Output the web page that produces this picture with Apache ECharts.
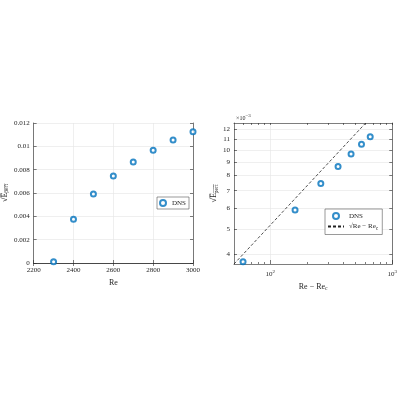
<!DOCTYPE html>
<html><head><meta charset="utf-8">
<script src="https://cdn.jsdelivr.net/npm/echarts@6/dist/echarts.min.js"></script>
<style>html,body{margin:0;padding:0;background:#fff}#c{width:400px;height:400px}</style>
</head><body><div id="c"></div>
<script>
// Left panel data
const reValues = [2300, 2400, 2500, 2600, 2700, 2800, 2900, 3000];
const sqrtE = [0.0001, 0.00374, 0.00591, 0.00746, 0.00866, 0.00966, 0.01054, 0.01126];
const leftXTicks = [2200, 2400, 2600, 2800, 3000];
const leftYTicks = [0, 0.002, 0.004, 0.006, 0.008, 0.01, 0.012];
// Right panel data
const reMinusRc = [60, 160, 260, 360, 460, 560, 660];
const sqrtELog = [0.00374, 0.00591, 0.00746, 0.00866, 0.00966, 0.01054, 0.01126];
const fitX = [50.6, 606];
const fitY = [0.00367, 0.0127];
const rightXMajor = [100, 1000];
const rightXMinor = [60, 70, 80, 90, 200, 300, 400, 500, 600, 700, 800, 900];
const rightYTicks = [0.004, 0.005, 0.006, 0.007, 0.008, 0.009, 0.010, 0.011, 0.012];

const FONT = 'Liberation Serif';
const TXT = '#262626';
const AX = '#262626';
const GRID = '#e4e4e4';
const BLUE = '#0072BD';
const rich = {
  sup: {fontSize: 5, fontFamily: FONT, color: TXT, padding: [0, 0, 5, 0]},
  sub: {fontSize: 5.5, fontFamily: FONT, color: TXT, padding: [4, 0, 0, 0]}
};

function baseAxis(extra) {
  return Object.assign({
    axisLine: {show: true, lineStyle: {color: AX, width: 0.6}},
    axisTick: {show: true, inside: true, length: 3, lineStyle: {color: AX, width: 0.6}},
    axisLabel: {show: true, fontFamily: FONT, fontSize: 7, color: TXT, margin: 4},
    splitLine: {show: true, lineStyle: {color: GRID, width: 0.6}},
    nameTextStyle: {fontFamily: FONT, fontSize: 8, color: TXT, rich: rich}
  }, extra);
}
function boxAxis(extra) {
  return Object.assign(baseAxis(extra), {
    axisLabel: {show: false}, splitLine: {show: false}
  });
}

const chart = echarts.init(document.getElementById('c'), null, {renderer: 'canvas'});
const yName = '√E̅{sub|p̅e̅r̅t̅}';
chart.setOption({
  animation: false,
  backgroundColor: '#fff',
  grid: [
    {left: 32, top: 123, width: 161, height: 140},
    {left: 234, top: 123, width: 161, height: 141}
  ],
  xAxis: [
    baseAxis({gridIndex: 0, type: 'value', min: 2200, max: 3000, interval: 200,
      name: 'Re', nameLocation: 'middle', nameGap: 16,
      axisLabel: {fontFamily: FONT, fontSize: 7, color: TXT, margin: 4, customValues: leftXTicks,
        formatter: v => String(v)},
      axisTick: {inside: true, length: 3, lineStyle: {color: AX, width: 0.6}, customValues: leftXTicks}}),
    boxAxis({gridIndex: 0, type: 'value', min: 2200, max: 3000, interval: 200, position: 'top'}),
    baseAxis({gridIndex: 1, type: 'log', min: 50.6, max: 1000,
      name: 'Re − Re{sub|c}', nameLocation: 'middle', nameGap: 18,
      axisLabel: {fontFamily: FONT, fontSize: 7, color: TXT, margin: 5, customValues: rightXMajor,
        formatter: v => '10{sup|' + Math.round(Math.log10(v)) + '}', rich: rich},
      axisTick: {inside: true, length: 4, lineStyle: {color: AX, width: 0.6}, customValues: rightXMajor}}),
    boxAxis({gridIndex: 1, type: 'log', min: 50.6, max: 1000, position: 'bottom',
      axisLine: {show: false},
      axisTick: {inside: true, length: 2, lineStyle: {color: AX, width: 0.6}, customValues: rightXMinor}}),
    boxAxis({gridIndex: 1, type: 'log', min: 50.6, max: 1000, position: 'top',
      axisTick: {inside: true, length: 2, lineStyle: {color: AX, width: 0.6}, customValues: rightXMinor.concat(rightXMajor)}})
  ],
  yAxis: [
    baseAxis({gridIndex: 0, type: 'value', min: 0, max: 0.012, interval: 0.002,
      name: yName, nameLocation: 'middle', nameGap: 22, nameRotate: 90}),
    boxAxis({gridIndex: 0, type: 'value', min: 0, max: 0.012, interval: 0.002, position: 'right'}),
    baseAxis({gridIndex: 1, type: 'log', min: 0.00367, max: 0.0127,
      name: yName, nameLocation: 'middle', nameGap: 12, nameRotate: 90,
      axisLabel: {fontFamily: FONT, fontSize: 7, color: TXT, margin: 4, customValues: rightYTicks,
        formatter: v => String(Math.round(v * 1000))},
      axisTick: {inside: true, length: 3, lineStyle: {color: AX, width: 0.6}, customValues: rightYTicks}}),
    boxAxis({gridIndex: 1, type: 'log', min: 0.00367, max: 0.0127, position: 'right',
      axisTick: {inside: true, length: 3, lineStyle: {color: AX, width: 0.6}, customValues: rightYTicks}})
  ],
  legend: [
    {data: ['DNS'], left: 157, top: 197, orient: 'vertical', itemWidth: 8, itemHeight: 6, itemGap: 2,
      padding: [2, 3, 2, 2], borderColor: '#555', borderWidth: 0.6, backgroundColor: '#fff',
      textStyle: {fontFamily: FONT, fontSize: 7, color: TXT}},
    {data: ['DNS', {name: 'fit', itemStyle: {opacity: 0}}], left: 325, top: 209, orient: 'vertical',
      itemWidth: 16, itemHeight: 6, itemGap: 3,
      padding: [3, 4, 3, 2], borderColor: '#555', borderWidth: 0.6, backgroundColor: '#fff',
      formatter: n => n === 'fit' ? '√Re − Re{sub|c}' : n,
      textStyle: {fontFamily: FONT, fontSize: 7, color: TXT, rich: rich}}
  ],
  series: [
    {name: 'DNS', type: 'scatter', xAxisIndex: 0, yAxisIndex: 0,
      data: reValues.map((x, i) => [x, sqrtE[i]]),
      symbol: 'emptyCircle', symbolSize: 5, itemStyle: {color: BLUE, borderWidth: 1.5}},
    {name: 'DNS', type: 'scatter', xAxisIndex: 2, yAxisIndex: 2,
      data: reMinusRc.map((x, i) => [x, sqrtELog[i]]),
      symbol: 'emptyCircle', symbolSize: 5, itemStyle: {color: BLUE, borderWidth: 1.5}},
    {name: 'fit', type: 'line', xAxisIndex: 2, yAxisIndex: 2,
      data: fitX.map((x, i) => [x, fitY[i]]),
      symbol: 'none', lineStyle: {color: '#222', width: 0.8, type: [3, 2]}, itemStyle: {color: '#222'}}
  ],
  graphic: [
    {type: 'text', left: 236, top: 113,
      style: {text: '×10{sup|−3}', font: '6px ' + FONT, fill: TXT, rich: rich}}
  ]
});
</script></body></html>
